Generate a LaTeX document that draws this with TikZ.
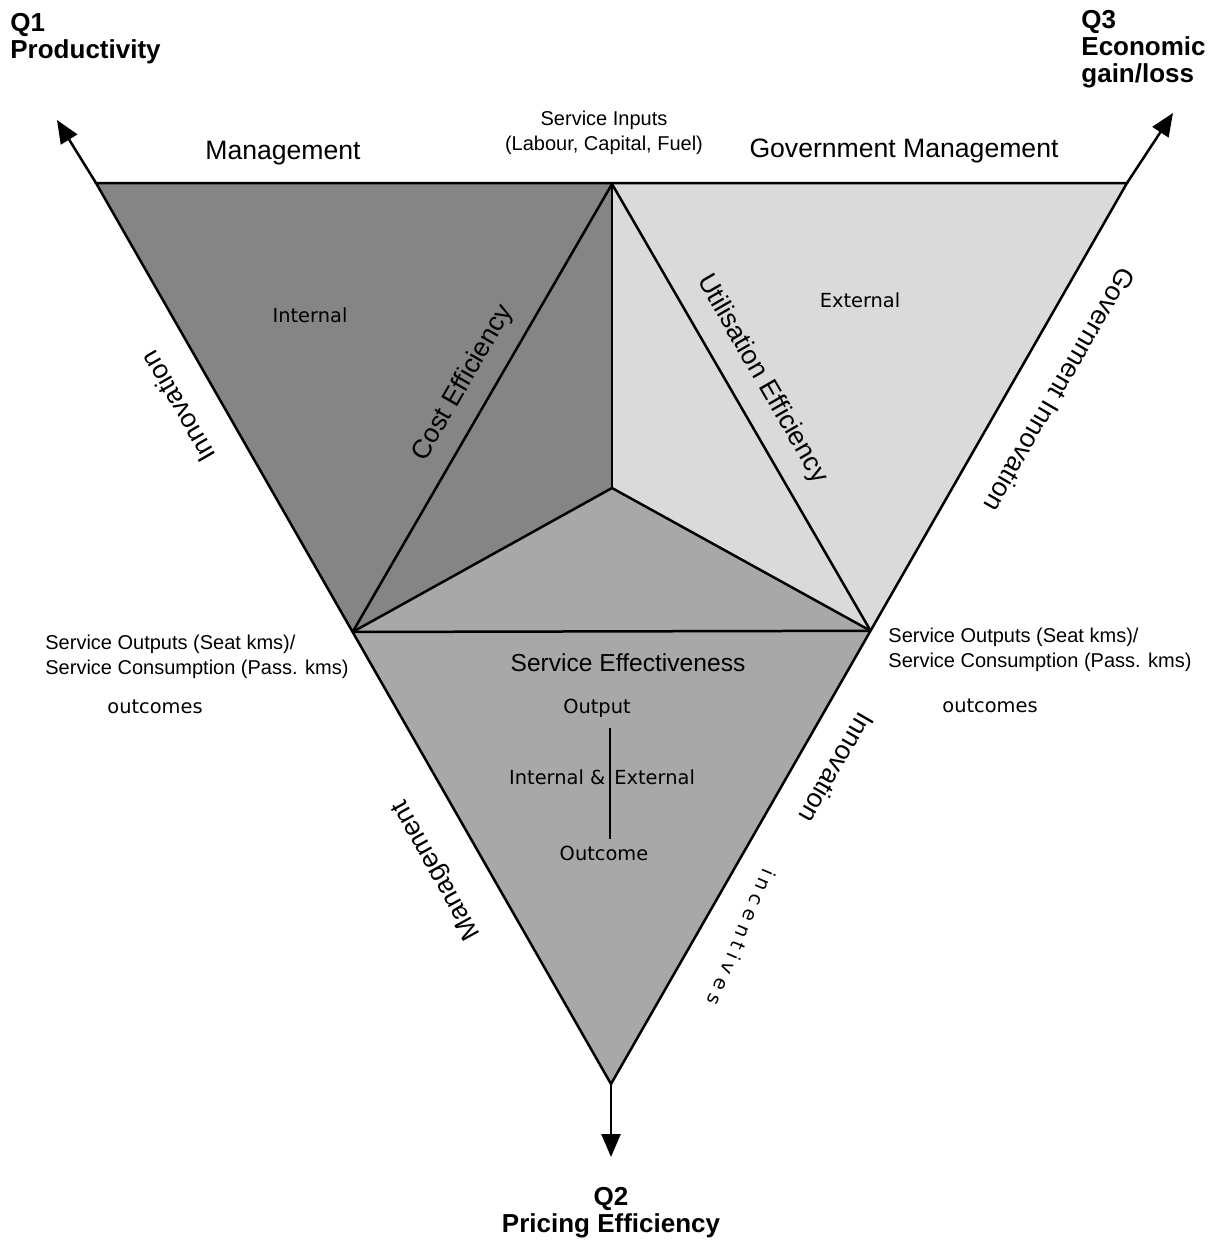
\documentclass[tikz,border=0pt]{standalone}
\usepackage{fontspec}
\setmainfont{Liberation Sans}
\newfontfamily\lucida{DejaVu Sans}
\usetikzlibrary{arrows.meta,calc}
\definecolor{darkreg}{HTML}{858585}
\definecolor{lightreg}{HTML}{DADADA}
\definecolor{midreg}{HTML}{A8A8A8}
\begin{document}
\begin{tikzpicture}[x=0.5pt,y=-0.5pt,
  edge/.style={line width=1.25pt, black, line join=miter},
  axis/.style={line width=1.25pt, -{Triangle[length=11.5pt,width=9.5pt]}},
  big/.style={inner sep=0pt, font=\fontsize{13.3}{15}\selectfont},
  eff/.style={inner sep=0pt, font=\fontsize{12.3}{14}\selectfont},
  small/.style={inner sep=0pt, font=\fontsize{10}{12.5}\selectfont},
  luc/.style={inner sep=0pt, font=\lucida\fontsize{9.7}{11}\selectfont},
  qtitle/.style={inner sep=0pt, font=\bfseries\fontsize{13}{13.6}\selectfont},
]
\useasboundingbox (0,0) rectangle (1222,1247);

% corner points
\coordinate (TL) at (96,183);
\coordinate (TR) at (1127,183);
\coordinate (B) at (611,1084);
\coordinate (T) at (612,184);
\coordinate (C) at (612,488);
\coordinate (L) at ($(TL)!0.4983!(B)$);
\coordinate (R) at ($(TR)!0.497!(B)$);
\coordinate (Q1tip) at (57,120);
\coordinate (Q3tip) at (1173,113);
\coordinate (Q2tip) at (611,1157);
\coordinate (vtop) at (610,728);
\coordinate (vbot) at (610,839);

% shaded regions
\fill[darkreg] (TL) -- (T) -- (C) -- (L) -- cycle;
\fill[lightreg] (T) -- (TR) -- (R) -- (C) -- cycle;
\fill[midreg] (L) -- (C) -- (R) -- (B) -- cycle;

% lines
\draw[edge] (TL) -- (TR) -- (B) -- cycle;
\draw[edge] (T) -- (C);
\draw[edge] (T) -- (L);
\draw[edge] (T) -- (R);
\draw[edge] (C) -- (L);
\draw[edge] (C) -- (R);
\draw[edge] (L) -- (R);
\draw[edge] (vtop) -- (vbot);

% axes
\draw[axis] (TL) -- (Q1tip);
\draw[axis] (TR) -- (Q3tip);
\draw[axis] (B) -- (Q2tip);

% titles
\node[qtitle, anchor=north west, align=left] (q1) at (10,13) {Q1\\Productivity};
\node[qtitle, anchor=north west, align=left] (q3) at (1081,10) {Q3\\Economic\\gain/loss};
\node[qtitle, anchor=north, align=center] (q2) at (611,1187) {Q2\\Pricing Efficiency};

% top labels
\node[big] (mgmt) at (283,153) {Management};
\node[small, align=center] (inputs) at (604,133) {Service Inputs\\(Labour, Capital, Fuel)};
\node[big] (gmgmt) at (904,151) {Government Management};

% region labels
\node[luc] (internal) at (310,315) {Internal};
\node[luc] (external) at (860,300) {External};
\node[big, rotate=60] (cost) at (463,383) {Cost Efficiency};
\node[big, rotate=-60] (util) at (762,379) {Utilisation Efficiency};
\node[eff] (seff) at (628,663) {Service Effectiveness};
\node[luc] (output) at (597,708) {Output};
\node[luc] (intext) at (602,777) {Internal \&\hspace{1.5pt} External};
\node[luc] (outcome) at (604,853) {Outcome};

% side labels
\node[small, anchor=west, align=left] (soutL) at (45,657) {Service Outputs (Seat kms)/\\Service Consumption (Pass. kms)};
\node[small, anchor=west, align=left] (soutR) at (888,650) {Service Outputs (Seat kms)/\\Service Consumption (Pass. kms)};
\node[luc] (outcL) at (155,707) {outcomes};
\node[luc] (outcR) at (990,706) {outcomes};

% rotated edge labels
\node[big, rotate=120] (innovL) at (178,407) {Innovation};
\node[big, rotate=119] (mgmtB) at (437,870) {Management};
\node[big, rotate=-120] (ginnov) at (1060,390) {Government Innovation};
\node[big, rotate=-120] (innovR) at (837,768) {Innovation};
\node[luc, rotate=-113] (incent) at (742,937) {i\kern2.6pt n\kern2.6pt c\kern2.6pt e\kern2.6pt n\kern2.6pt t\kern2.6pt i\kern2.6pt v\kern2.6pt e\kern2.6pt s};
\end{tikzpicture}
\end{document}
